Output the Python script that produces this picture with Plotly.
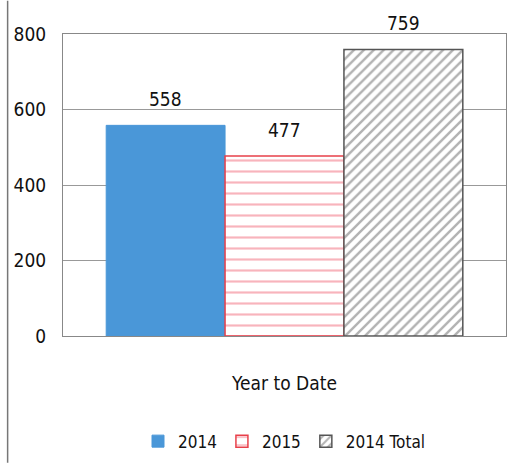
import plotly.graph_objects as go

categories = ["Year to Date"]
series_names = ["2014", "2015", "2014 Total"]
values = [558, 477, 759]
y_ticks = [0, 200, 400, 600, 800]

FONT = "DejaVu Sans Condensed, Liberation Sans Narrow, sans-serif"

styles = [
    dict(color="#4a97d8", line=dict(color="#4a97d8", width=1), pattern=None),
    dict(color="white", line=dict(color="#e8404a", width=1.5),
         pattern=dict(shape="-", fgcolor="#f26a7a", bgcolor="white", size=11, solidity=0.2)),
    dict(color="white", line=dict(color="#555555", width=1.5),
         pattern=dict(shape="/", fgcolor="#666666", bgcolor="white", size=7, solidity=0.35)),
]

fig = go.Figure()
for name, v, st in zip(series_names, values, styles):
    marker = dict(color=st["color"], line=st["line"])
    if st["pattern"]:
        marker["pattern"] = st["pattern"]
    fig.add_trace(go.Bar(
        x=categories, y=[v], name=name, marker=marker,
    ))

# value labels above the bars (offset via yshift, positions from data)
offsets = [-1, 0, 1]
for name, v, off in zip(series_names, values, offsets):
    fig.add_annotation(
        x=categories[0], y=v, text=str(v), showarrow=False,
        xshift=off * 119, yshift=26,
        font=dict(family=FONT, size=19, color="#111111"),
    )

fig.update_layout(
    width=515, height=468,
    margin=dict(l=63, r=9, t=34, b=129),
    paper_bgcolor="white", plot_bgcolor="white",
    barmode="group", bargap=0.195, bargroupgap=0,
    font=dict(family=FONT, size=19, color="#111111"),
    showlegend=True,
    legend=dict(orientation="h", x=0.5, xanchor="center", y=-0.29, yanchor="top",
                font=dict(family=FONT, size=17), itemwidth=30),
    xaxis=dict(showline=True, linecolor="#888888", mirror=True, ticks="",
               ticklabelstandoff=30,
               tickfont=dict(family=FONT, size=19)),
    yaxis=dict(range=[0, 800], tickvals=y_ticks, showgrid=True, gridcolor="#999999",
               showline=True, linecolor="#888888", mirror=True, ticks="",
               ticklabelstandoff=12, tickfont=dict(family=FONT, size=19), zeroline=False),
    shapes=[dict(type="line", xref="paper", yref="paper", x0=-0.125, x1=-0.125,
                 y0=-0.42, y1=1.11, line=dict(color="#777777", width=1.5))],
)

fig.write_html("out.html")
